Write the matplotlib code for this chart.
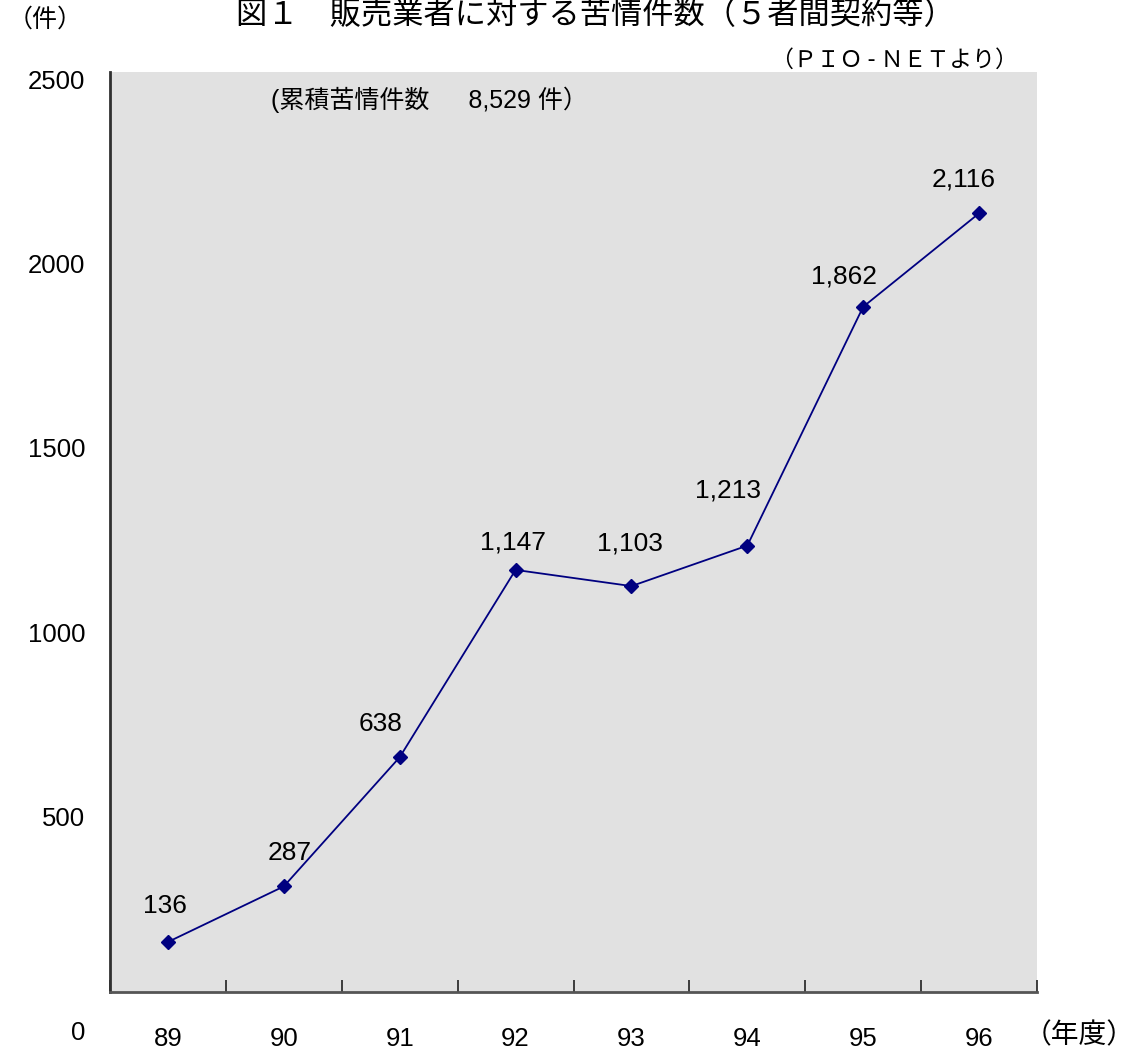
import numpy as np
import matplotlib
matplotlib.use("Agg")
from matplotlib import pyplot as plt
from matplotlib import transforms

plt.rcParams['font.family'] = ['Liberation Sans', 'Noto Sans CJK JP', 'DejaVu Sans']

# complaint counts per fiscal year
years = ['89', '90', '91', '92', '93', '94', '95', '96']
counts = [136, 287, 638, 1147, 1103, 1213, 1862, 2116]
count_labels = ['136', '287', '638', '1,147', '1,103', '1,213', '1,862', '2,116']
# label nudges in points (dx, dy)
label_offsets = [(-2, 26), (4, 24), (-14, 24), (-2, 20), (-1, 31), (-14, 40), (-14, 22), (-11, 24)]
yticks = [0, 500, 1000, 1500, 2000, 2500]

navy = '#000080'

fig = plt.figure(figsize=(11.37, 10.54), dpi=100)
ax = fig.add_axes([110/1137, 62/1054, 927/1137, 920/1054])
ax.set_facecolor('#e1e1e1')

x = np.arange(len(years))
ax.plot(x, counts, color=navy, lw=1.3, marker='D', ms=7.5, mfc=navy, mec=navy, zorder=3)

for xi, yi, lab, (dx, dy) in zip(x, counts, count_labels, label_offsets):
    ax.annotate(lab, (xi, yi), xytext=(dx, dy), textcoords='offset points',
                ha='center', va='center', fontsize=19)

ax.set_xlim(-0.5, len(years) - 0.5)
ax.set_ylim(0, 2500)

ax.set_xticks(x)
ax.set_xticklabels(years, fontsize=18.5)
ax.set_xticks(np.arange(len(years) + 1) - 0.5, minor=True)
ax.tick_params(axis='x', which='major', length=0, pad=25)
ax.tick_params(axis='x', which='minor', direction='in', length=9, width=1.2, color='#202020')

ax.set_yticks(yticks)
ax.set_yticklabels([str(v) for v in yticks], fontsize=18.5)
ax.tick_params(axis='y', length=0, pad=18)
for lab in ax.get_yticklabels():
    shift = -38 if lab.get_text() == '0' else -8
    lab.set_transform(lab.get_transform() + transforms.ScaledTranslation(0, shift/100, fig.dpi_scale_trans))

for side in ['top', 'right']:
    ax.spines[side].set_visible(False)
ax.spines['left'].set_color('#303030')
ax.spines['left'].set_linewidth(2)
ax.spines['bottom'].set_color('#555555')
ax.spines['bottom'].set_linewidth(2)

jp = ['Noto Sans CJK JP', 'DejaVu Sans']
fig.text(595/1137, 1 - 15/1054, '図１　販売業者に対する苦情件数（５者間契約等）',
         ha='center', va='center', fontsize=22.5, family=jp)
fig.text(8/1137, 1 - 20/1054, '（件）', ha='left', va='center', fontsize=18, family=jp)
fig.text(1018/1137, 1 - 60/1054, '（ＰＩＯ - ＮＥＴより）', ha='right', va='center', fontsize=16.5, family=jp)
fig.text(271/1137, 1 - 100/1054, '(累積苦情件数　  8,529 件）', ha='left', va='center', fontsize=18)
fig.text(1135/1137, 1 - 1035/1054, '（年度）', ha='right', va='center', fontsize=20, family=jp)

fig.savefig('out.png', dpi=100)
